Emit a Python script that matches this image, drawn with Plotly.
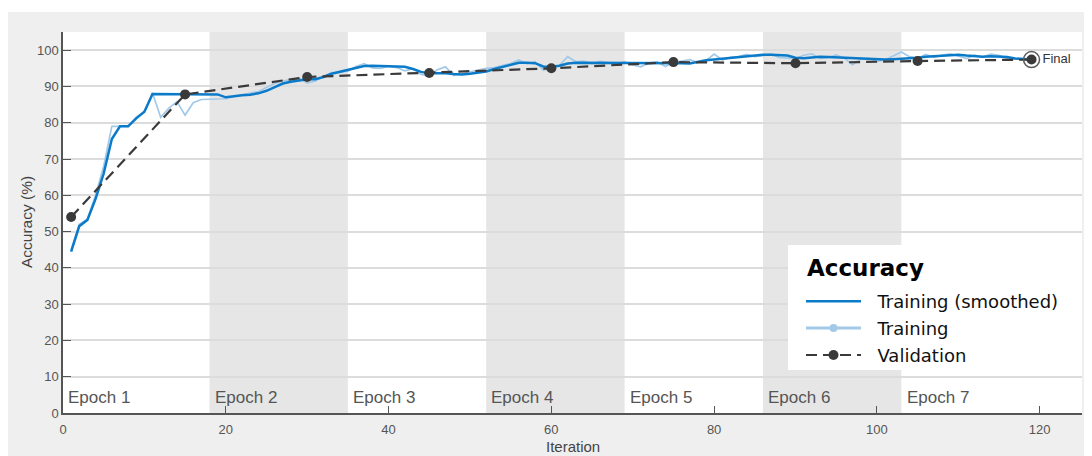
import plotly.graph_objects as go

# ---------------- data ----------------
iterations = list(range(1, 120))

train_smoothed = [
    44.5, 51.5, 53.2, 59.0, 66.0, 75.5, 79.0, 79.0, 81.2, 83.0,
    87.9, 87.9, 87.9, 87.9, 87.9, 87.9, 87.9, 87.9, 87.8, 87.0,
    87.4, 87.6, 87.7, 88.1, 88.8, 89.8, 90.8, 91.3, 91.7, 92.0,
    92.0, 92.6, 93.5, 94.0, 94.4, 95.0, 95.6, 95.7, 95.6, 95.5,
    95.4, 95.4, 94.8, 94.0, 93.6, 93.7, 93.6, 93.4, 93.3, 93.5,
    93.8, 94.1, 94.8, 95.4, 96.1, 96.5, 96.5, 96.4, 95.5, 95.4,
    95.7, 96.3, 96.5, 96.5, 96.5, 96.5, 96.5, 96.6, 96.6, 96.6,
    96.6, 96.5, 96.5, 96.5, 96.5, 96.4, 96.3, 96.8, 97.2, 97.4,
    97.6, 98.0, 98.2, 98.3, 98.5, 98.7, 98.7, 98.6, 98.5, 97.9,
    97.8, 98.0, 98.2, 98.1, 98.0, 97.9, 97.7, 97.5, 97.4, 97.4,
    97.4, 97.5, 97.6, 97.7, 97.9, 98.2, 98.3, 98.5, 98.6, 98.7,
    98.5, 98.3, 98.2, 98.3, 98.3, 98.1, 97.7, 97.5, 97.4,
]

train_raw = [
    45.0, 52.0, 53.5, 60.0, 68.0, 79.0, 79.0, 79.0, 81.5, 83.0,
    88.2, 81.5, 84.0, 85.8, 82.1, 85.5, 86.4, 86.5, 86.5, 86.6,
    87.2, 87.8, 88.2, 88.6, 89.8, 90.8, 91.5, 91.8, 92.3, 90.9,
    91.5, 92.8, 93.8, 93.9, 94.2, 95.5, 96.3, 95.1, 95.0, 95.6,
    95.2, 94.3, 94.9, 93.3, 92.9, 94.6, 95.4, 93.0, 93.5, 93.9,
    94.5, 95.0, 95.2, 95.8, 96.3, 97.3, 96.2, 96.8, 94.5, 95.0,
    95.8, 98.2, 96.8, 97.0, 96.3, 96.9, 96.5, 96.2, 96.8, 95.9,
    95.4, 96.5, 96.8, 95.5, 96.6, 96.9, 97.4, 96.6, 97.1, 98.9,
    97.3, 98.0, 98.2, 98.8, 98.2, 98.5, 98.9, 98.0, 97.8, 97.6,
    98.6, 99.0, 97.7, 97.9, 98.7, 97.8, 96.0, 97.5, 97.7, 96.9,
    97.3, 98.5, 99.5, 98.2, 97.7, 98.8, 98.0, 98.6, 99.0, 98.4,
    97.7, 98.6, 98.1, 98.9, 98.6, 97.7, 97.5, 97.6, 97.4,
]

val_iter = [1, 15, 30, 45, 60, 75, 90, 105, 119]
val_acc = [54.0, 87.8, 92.6, 93.7, 95.0, 96.7, 96.4, 97.0, 97.4]

epoch_labels = ["Epoch 1", "Epoch 2", "Epoch 3", "Epoch 4", "Epoch 5", "Epoch 6", "Epoch 7"]
epoch_starts = [0, 18, 35, 52, 69, 86, 103]
epoch_ends = [18, 35, 52, 69, 86, 103, 120]

x_ticks = [0, 20, 40, 60, 80, 100, 120]
y_ticks = [0, 10, 20, 30, 40, 50, 60, 70, 80, 90, 100]

# ---------------- style / geometry (figure pixel coords) ----------------
W, H = 1084, 448
ML, MR, MT, MB = 55, 10, 24, 43
PW, PH = W - ML - MR, H - MT - MB


def px(fx):
    return (fx - ML) / PW


def py(fy):
    return (MT + PH - fy) / PH


BLUE = "#0b7bc9"
LIGHT = "#a3c9e8"
VAL = "#3a3a3a"
AX = "#555555"
FONT = "Liberation Sans, Arial, sans-serif"
LFONT = "DejaVu Sans, sans-serif"
NB = "\u00a0\u00a0"

fig = go.Figure()

fig.add_trace(go.Scatter(
    x=iterations, y=train_raw, mode="lines",
    line=dict(color=LIGHT, width=1.7), showlegend=False, hoverinfo="skip"))

fig.add_trace(go.Scatter(
    x=iterations, y=train_smoothed, mode="lines", name=NB + "Training (smoothed)",
    legendgroup="a", line=dict(color=BLUE, width=2.5)))

# legend-only entry for the raw training series (line with dot)
fig.add_trace(go.Scatter(
    x=[None], y=[None], mode="lines+markers", name=NB + "Training",
    legendgroup="b", line=dict(color=LIGHT, width=3), marker=dict(color=LIGHT, size=8)))

fig.add_trace(go.Scatter(
    x=val_iter, y=val_acc, mode="lines+markers", name=NB + "Validation",
    legendgroup="c", line=dict(color=VAL, width=2.2, dash="11px,6px"),
    marker=dict(color=VAL, size=10)))

fig.add_trace(go.Scatter(
    x=[val_iter[-1]], y=[val_acc[-1]], mode="markers+text", text=["Final"],
    textposition="middle right", textfont=dict(family=FONT, size=13, color="#333333"),
    marker=dict(size=16, color="rgba(0,0,0,0)", line=dict(color="#5a5a5a", width=1.5)),
    showlegend=False, hoverinfo="skip"))

shapes = []
# white strip above the gray panel
shapes.append(dict(type="rect", xref="paper", yref="paper",
                   x0=px(-5), x1=px(W + 5), y0=py(4), y1=py(-5),
                   fillcolor="white", line=dict(width=0), layer="below"))
# epoch bands
for i, (s, e) in enumerate(zip(epoch_starts, epoch_ends)):
    if i % 2 == 1:
        shapes.append(dict(type="rect", xref="x", yref="paper", x0=s, x1=e, y0=0, y1=1,
                           fillcolor="#e6e6e6", line=dict(width=0), layer="below"))
# legend box
shapes.append(dict(type="rect", xref="paper", yref="paper",
                   x0=px(780), x1=px(1074), y0=py(362), y1=py(237),
                   fillcolor="white", line=dict(width=0), layer="above"))

annotations = []
for lab, s in zip(epoch_labels, epoch_starts):
    annotations.append(dict(x=s + 0.4, y=4.3, xref="x", yref="y", text=lab, showarrow=False,
                            xanchor="left", yanchor="middle",
                            font=dict(family=FONT, size=17, color="#555555")))
annotations.append(dict(x=px(18.5), y=0.5, xref="paper", yref="paper", text="Accuracy (%)",
                        textangle=-90, showarrow=False, xanchor="center", yanchor="middle",
                        font=dict(family=FONT, size=15.5, color="#444444")))
annotations.append(dict(x=0.5, y=py(439), xref="paper", yref="paper", text="Iteration",
                        showarrow=False, xanchor="center", yanchor="middle",
                        font=dict(family=FONT, size=15, color="#444444")))
annotations.append(dict(x=px(797), y=py(260), xref="paper", yref="paper", text="<b>Accuracy</b>",
                        showarrow=False, xanchor="left", yanchor="middle",
                        font=dict(family=LFONT, size=23, color="#000000")))

fig.update_layout(
    width=W, height=H,
    margin=dict(l=ML, r=MR, t=MT, b=MB, pad=0),
    paper_bgcolor="#efefef", plot_bgcolor="white",
    shapes=shapes, annotations=annotations,
    showlegend=True,
    legend=dict(
        x=px(793), xanchor="left", y=py(275), yanchor="top",
        bgcolor="rgba(0,0,0,0)", borderwidth=0,
        font=dict(family=LFONT, size=18, color="#111111"),
        itemwidth=55, traceorder="grouped", tracegroupgap=0.5,
    ),
    xaxis=dict(range=[0, 125.2], tickvals=x_ticks, ticks="inside", ticklen=7, tickwidth=1.2,
               tickcolor=AX, showline=True, linecolor=AX, linewidth=1.5, showgrid=False,
               zeroline=False, ticklabelstandoff=4,
               tickfont=dict(family=FONT, size=13, color="#555555")),
    yaxis=dict(range=[0, 105], tickvals=y_ticks, ticks="inside", ticklen=8, tickwidth=1.2,
               tickcolor=AX, showline=True, linecolor=AX, linewidth=1.5, showgrid=True,
               gridcolor="#dcdcdc", gridwidth=1.5, zeroline=False,
               tickfont=dict(family=FONT, size=13, color="#555555")),
)

fig.write_html("out.html")
